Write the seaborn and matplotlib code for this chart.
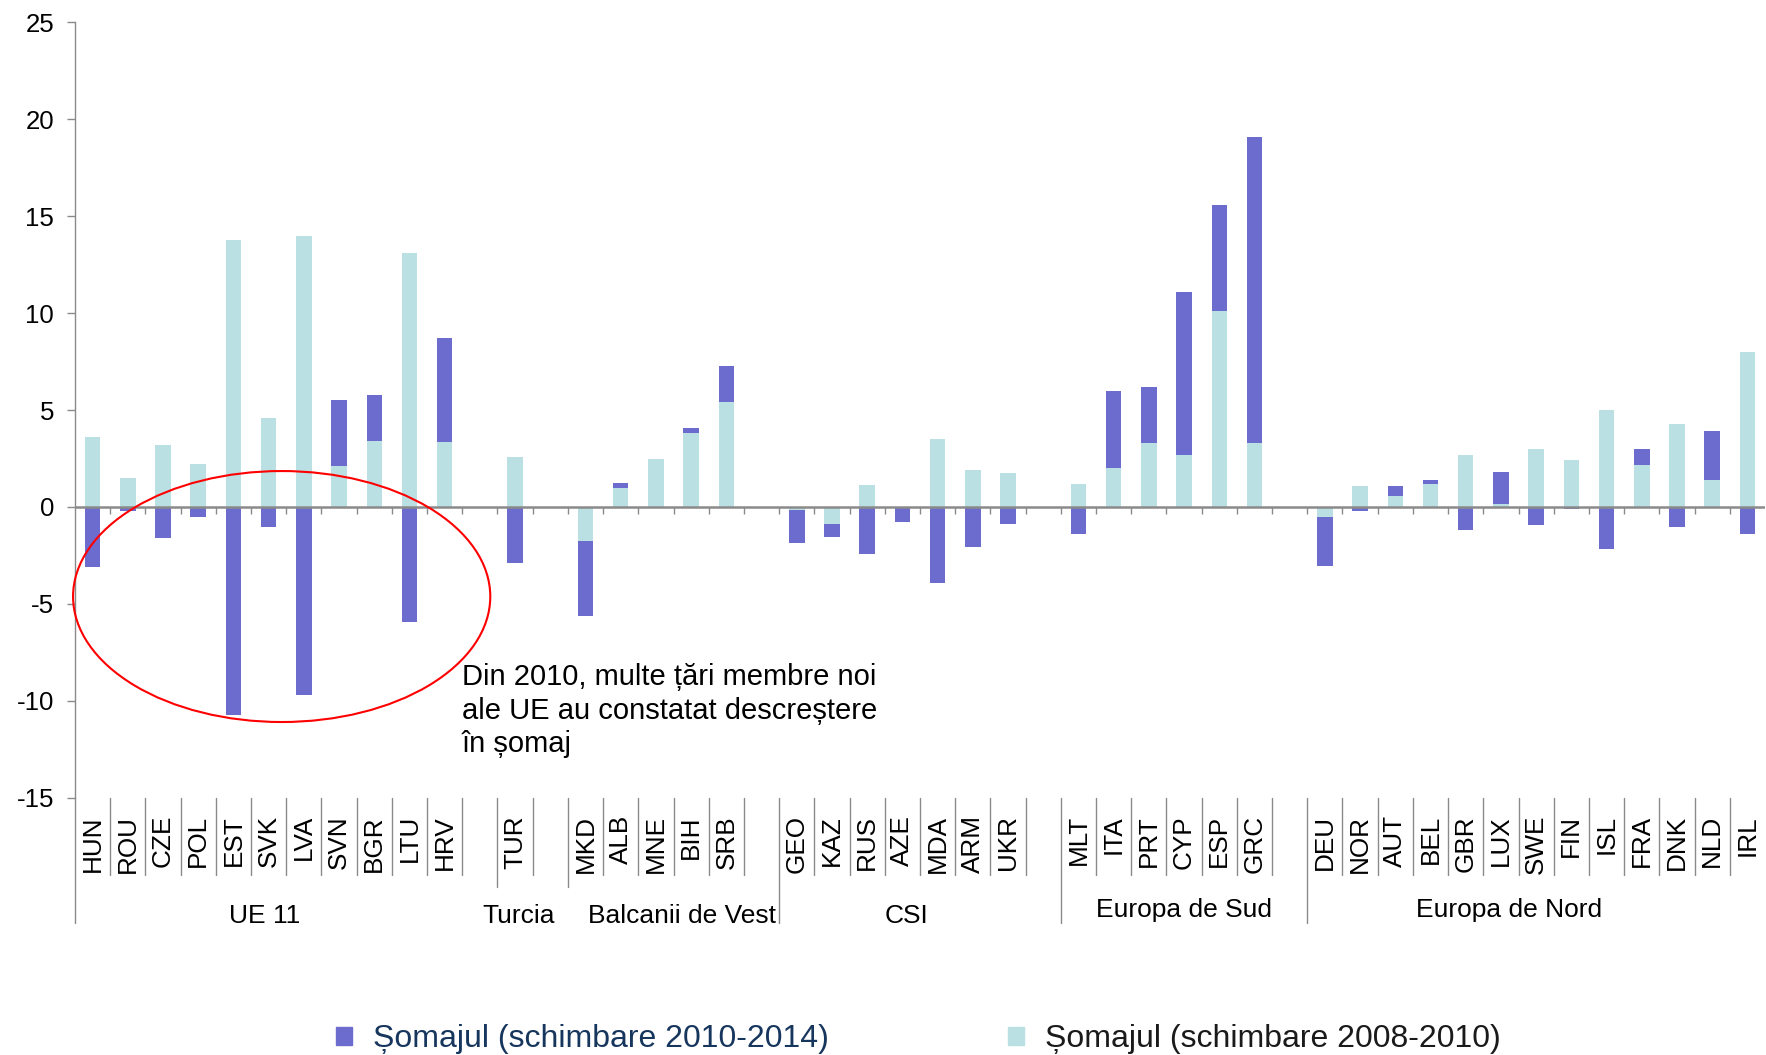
import numpy as np
import pandas as pd
import seaborn as sns
import matplotlib
matplotlib.use("Agg")
from matplotlib import pyplot as plt
from matplotlib.patches import Ellipse
from matplotlib.lines import Line2D
import matplotlib.transforms as mtransforms

# Date: schimbarea ratei somajului (puncte procentuale)
grupuri = ["UE 11", "Turcia", "Balcanii de Vest", "CSI", "Europa de Sud", "Europa de Nord"]
marime_grup = [11, 1, 5, 7, 6, 13]
tari = ["HUN", "ROU", "CZE", "POL", "EST", "SVK", "LVA", "SVN", "BGR", "LTU", "HRV",
        "TUR",
        "MKD", "ALB", "MNE", "BIH", "SRB",
        "GEO", "KAZ", "RUS", "AZE", "MDA", "ARM", "UKR",
        "MLT", "ITA", "PRT", "CYP", "ESP", "GRC",
        "DEU", "NOR", "AUT", "BEL", "GBR", "LUX", "SWE", "FIN", "ISL", "FRA", "DNK", "NLD", "IRL"]
# schimbare 2008-2010
s_0810 = [3.6, 1.5, 3.2, 2.2, 13.8, 4.6, 14.0, 2.1, 3.4, 13.1, 3.35,
          2.6,
          -1.75, 1.0, 2.5, 3.8, 5.4,
          -0.18, -0.87, 1.14, 0.0, 3.5, 1.9, 1.75,
          1.18, 2.0, 3.28, 2.69, 10.1, 3.28,
          -0.5, 1.09, 0.59, 1.19, 2.69, 0.18, 2.97, 2.4, 5.0, 2.19, 4.29, 1.37, 8.0]
# schimbare 2010-2014
s_1014 = [-3.1, -0.22, -1.62, -0.52, -10.72, -1.03, -9.7, 3.4, 2.4, -5.92, 5.35,
          -2.9,
          -3.89, 0.25, 0.0, 0.3, 1.85,
          -1.69, -0.67, -2.41, -0.76, -3.92, -2.05, -0.9,
          -1.38, 4.0, 2.9, 8.4, 5.5, 15.8,
          -2.52, -0.19, 0.5, 0.18, -1.2, 1.6, -0.91, -0.1, -2.19, 0.78, -1.02, 2.55, -1.39]

eticheta_2010 = "Șomajul (schimbare 2010-2014)"
eticheta_2008 = "Șomajul (schimbare 2008-2010)"
nota = "Din 2010, multe țări membre noi\nale UE au constatat descreștere\nîn șomaj"

CYAN = "#BBE0E3"
MOV = "#6C6CCE"
GRI = "#8A8A8A"

# pozitii: fiecare grup urmat de un loc gol
pos = []
margini_grup = []
k = 0
for n in marime_grup:
    margini_grup.append(k)
    pos += list(range(k, k + n))
    k += n + 1
n_slot = k - 1

df = pd.DataFrame({"tara": tari, "pos": pos, "v0810": s_0810, "v1014": s_1014})
df["baza"] = np.where(np.sign(df.v1014) == np.sign(df.v0810), df.v0810, 0.0)

sns.set_theme(style="white")
plt.rcParams["font.family"] = ["Liberation Sans", "DejaVu Sans"]
plt.rcParams["axes.unicode_minus"] = False

fig = plt.figure(figsize=(17.66, 10.55), dpi=100)
ax = fig.add_axes([0.04247, 0.24389, 0.95696, 0.73479])

sns.barplot(data=df, x="pos", y="v0810", native_scale=True, color=CYAN, saturation=1,
            width=0.44, errorbar=None, edgecolor="none", ax=ax)
sns.barplot(data=df, x="pos", y="v1014", native_scale=True, color=MOV, saturation=1,
            width=0.44, errorbar=None, edgecolor="none", bottom=df["baza"].values, ax=ax)

ax.set_xlim(-0.5, n_slot - 0.5)
ax.set_ylim(-15, 25)
ax.set_yticks(range(-15, 30, 5))
ax.set_xlabel("")
ax.set_ylabel("")
for s in ["top", "right", "bottom"]:
    ax.spines[s].set_visible(False)
ax.spines["left"].set_color(GRI)
ax.spines["left"].set_linewidth(1.0)
ax.tick_params(axis="y", direction="out", length=6, width=1, color=GRI, pad=9,
               labelsize=18.6, labelcolor="black", left=True)
ax.set_xticks(pos)
ax.set_xticklabels(tari, rotation=90, fontsize=18.8, color="black")
ax.tick_params(axis="x", length=0, pad=12.5)

# linia de zero cu marcaje
ax.axhline(0, color=GRI, lw=1.8, zorder=3)
edges = np.arange(1, n_slot) - 0.5
ax.vlines(edges, -0.36, 0, color=GRI, lw=1, zorder=3)

# separatoare sub axa
tr = mtransforms.blended_transform_factory(ax.transData, ax.transAxes)
for e in edges:
    yb = -0.0997
    if e + 0.5 in (margini_grup[1], margini_grup[2]):
        yb = -0.115
    if e + 0.5 in margini_grup[3:]:
        yb = -0.1616
    ax.add_line(Line2D([e, e], [0, yb], transform=tr, color=GRI, lw=1, clip_on=False))
ax.add_line(Line2D([-0.5, -0.5], [0, -0.1616], transform=tr, color=GRI, lw=1, clip_on=False))

# etichete de grup
x_grup = [4.89, 12.09, 16.73, 23.12, 30.99, 40.24]
y_grup = [-0.1520, -0.1520, -0.1520, -0.1520, -0.1455, -0.1455]
for g, xg, yg in zip(grupuri, x_grup, y_grup):
    ax.text(xg, yg, g, transform=tr, ha="center", va="center", fontsize=19, color="black")

# elipsa si nota
ax.add_patch(Ellipse((5.37, -4.62), 11.85, 12.95, fill=False, edgecolor="#FF0000",
                     lw=1.5, clip_on=False, zorder=4))
ax.text(10.49, -8.05, nota, ha="left", va="top", fontsize=21, color="black",
        linespacing=1.25)

# legenda
h1 = plt.Rectangle((0, 0), 1, 1, color=MOV)
h2 = plt.Rectangle((0, 0), 1, 1, color=CYAN)
leg = fig.legend([h1, h2], [eticheta_2010, eticheta_2008], loc="center",
                 bbox_to_anchor=(0.520, 0.015), ncol=2, frameon=False, fontsize=23,
                 handlelength=0.5, handleheight=0.5, handletextpad=0.66,
                 columnspacing=5.6)
leg.get_texts()[0].set_color("#17365D")
leg.get_texts()[1].set_color("#1a1a1a")

fig.savefig("out.png", dpi=100)
